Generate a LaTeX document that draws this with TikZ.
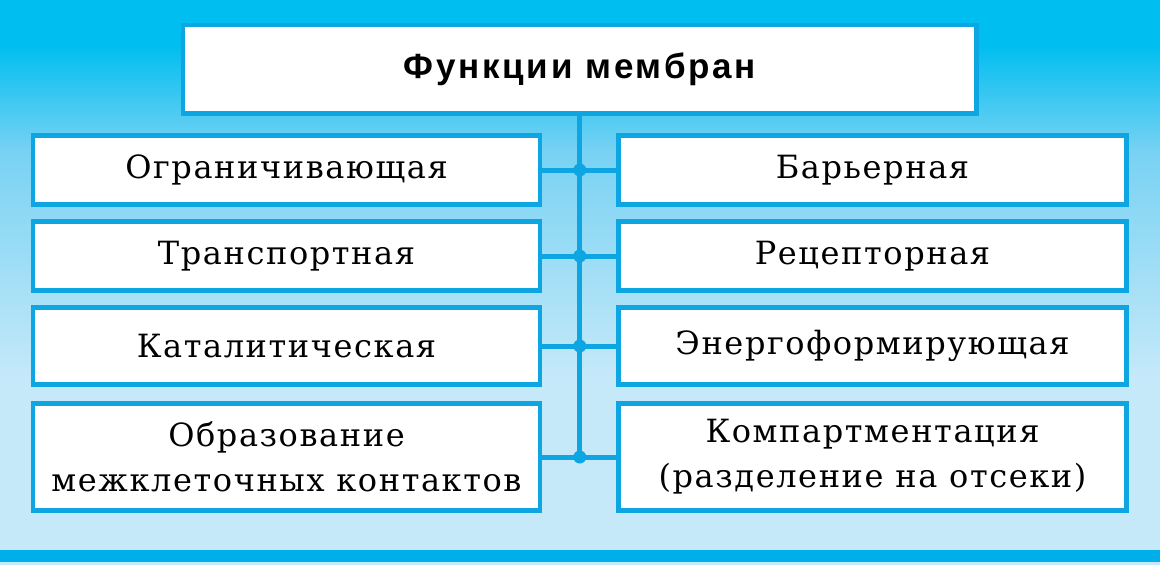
\documentclass[tikz,border=0pt]{standalone}
\usepackage{fontspec}
\setmainfont{DejaVu Serif}[LetterSpace=5]
\newfontfamily\titlefont{Liberation Sans}[LetterSpace=8]
\definecolor{bgtop}{RGB}{0,190,240}
\definecolor{bgmid}{RGB}{120,210,243}
\definecolor{bgbot}{RGB}{198,233,249}
\definecolor{bblue}{RGB}{14,166,226}
\definecolor{stripe}{RGB}{0,174,234}
\tikzset{
  fbox/.style={draw=bblue, line width=4.5pt, fill=white, inner sep=0pt, outer sep=0pt,
    align=center, font=\fontsize{32}{45}\selectfont, text=black},
  wire/.style={draw=bblue, line width=5pt},
  junction/.style={circle, fill=bblue, inner sep=0pt, minimum size=13pt}
}
\begin{document}
\begin{tikzpicture}[x=1pt,y=-1pt]
\useasboundingbox (0,0) rectangle (1160,565);
% background
\fill[bgtop] (0,0) rectangle (1160,46);
\shade[top color=bgtop, bottom color=bgmid] (0,45) rectangle (1160,151);
\shade[top color=bgmid, bottom color=bgbot] (0,150) rectangle (1160,381);
\fill[bgbot] (0,380) rectangle (1160,565);
\fill[stripe] (0,550) rectangle (1160,562);
% title
\node[fbox, minimum width=793.5pt, minimum height=88.5pt, font=\titlefont\bfseries\fontsize{35}{40}\selectfont]
  (title) at (579.75,69.25) {Функции мембран};
% left column
\node[fbox, minimum width=507pt, minimum height=69pt] (L1) at (286.5,170) {Ограничивающая};
\node[fbox, minimum width=507pt, minimum height=69pt] (L2) at (286.5,256) {Транспортная};
\node[fbox, minimum width=507pt, minimum height=77pt] (L3) at (286.5,346) {Каталитическая};
\node[fbox, minimum width=507pt, minimum height=107pt] (L4) at (286.5,457) {Образование\\межклеточных контактов};
% right column
\node[fbox, minimum width=508pt, minimum height=69pt] (R1) at (872.5,170) {Барьерная};
\node[fbox, minimum width=508pt, minimum height=69pt] (R2) at (872.5,256) {Рецепторная};
\node[fbox, minimum width=508pt, minimum height=77pt] (R3) at (872.5,346) {Энергоформирующая};
\node[fbox, minimum width=508pt, minimum height=107pt] (R4) at (872.5,457) {Компартментация\\(разделение на отсеки)};
% junctions on the spine
\coordinate (J1) at (title.south |- L1.east);
\coordinate (J2) at (title.south |- L2.east);
\coordinate (J3) at (title.south |- L3.east);
\coordinate (J4) at (title.south |- L4.east);
\draw[wire] ([yshift=2pt]title.south) -- (J4);
\foreach \i in {1,2,3,4} {
  \draw[wire] (L\i.east) -- (R\i.west);
  \node[junction] at (J\i) {};
}
\end{tikzpicture}
\end{document}
